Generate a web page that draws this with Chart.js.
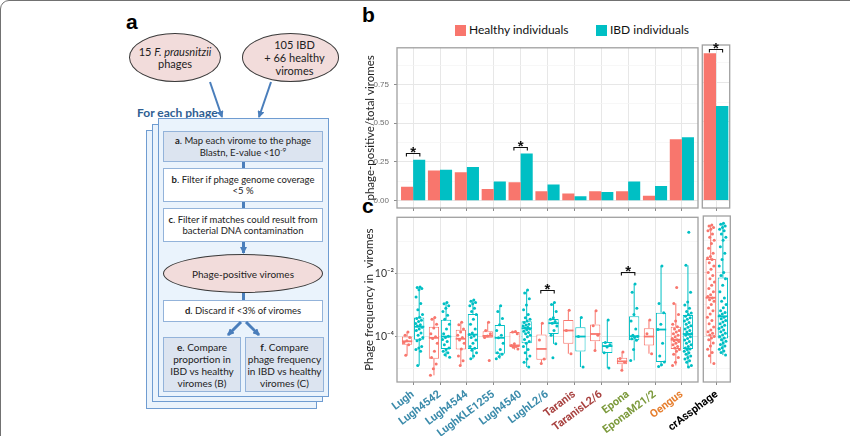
<!DOCTYPE html>
<html>
<head>
<meta charset="utf-8">
<script src="https://cdn.jsdelivr.net/npm/chart.js@4.4.1/dist/chart.umd.min.js"></script>
<style>
html,body{margin:0;padding:0;background:#fff;width:850px;height:436px;overflow:hidden;font-family:Lato,'Open Sans',sans-serif;color:#222;}
#frame{position:absolute;left:0;top:0;width:900px;height:500px;border:1.6px solid #717171;border-radius:9px;box-sizing:border-box;}
canvas{position:absolute;}
.plab{position:absolute;font-family:'Liberation Sans',Arial,sans-serif;font-weight:bold;font-size:21px;line-height:21px;color:#000;}
.stack{position:absolute;background:#eaf3fc;border:1.5px solid #6f9cd1;box-sizing:border-box;}
.box{position:absolute;border:1.2px solid #93b3da;box-sizing:border-box;display:flex;align-items:center;justify-content:center;text-align:center;font-size:9.5px;line-height:11.5px;color:#222;}
.shade{background:#dce4f0;}
.white{background:#fff;}
.ell{position:absolute;background:#f2dcdb;border:1px solid #3a3a3a;border-radius:50%;box-sizing:border-box;display:flex;align-items:center;justify-content:center;text-align:center;color:#222;}
.conn{position:absolute;background:#4a7ebb;width:3px;}
.leg{position:absolute;font-size:12px;line-height:14px;color:#111;}
.sw{position:absolute;width:11px;height:11px;}
sup{font-size:6.5px;vertical-align:4px;line-height:0;}
</style>
</head>
<body>
<div id="frame"></div>

<!-- panel a : workflow -->
<div class="plab" style="left:126px;top:11px;">a</div>
<div class="ell" style="left:129px;top:33px;width:92px;height:49px;font-size:11px;line-height:12px;"><div>15 <i>F. prausnitzii</i><br>phages</div></div>
<div class="ell" style="left:242px;top:33px;width:97px;height:49px;font-size:11px;line-height:13px;padding-left:8px;"><div>105 IBD<br>+ 66 healthy<br>viromes</div></div>
<div style="position:absolute;left:137px;top:105px;font-size:12px;font-weight:bold;color:#2f5e92;">For each phage</div>
<div class="stack" style="left:146px;top:130px;width:171px;height:279px;"></div>
<div class="stack" style="left:152px;top:124px;width:171px;height:278px;"></div>
<div class="stack" style="left:158px;top:118px;width:171px;height:279px;"></div>
<div class="box shade" style="left:163px;top:131px;width:160px;height:31px;"><div><b>a</b>. Map each virome to the phage<br>Blastn, E-value &lt;10<sup>-9</sup></div></div>
<div class="conn" style="left:242px;top:162px;height:6px;"></div>
<div class="box white" style="left:163px;top:168px;width:160px;height:34px;"><div><b>b</b>. Filter if phage genome coverage<br>&lt;5 %</div></div>
<div class="conn" style="left:242px;top:202px;height:6px;"></div>
<div class="box white" style="left:163px;top:208px;width:160px;height:34px;"><div><b>c</b>. Filter if matches could result from<br>bacterial DNA contamination</div></div>
<div class="ell" style="left:163px;top:254px;width:160px;height:39px;font-size:10px;"><div>Phage-positive viromes</div></div>
<div class="conn" style="left:242px;top:293px;height:7px;"></div>
<div class="box white" style="left:163px;top:300px;width:160px;height:22px;"><div><b>d</b>. Discard if &lt;3% of viromes</div></div>
<div class="box shade" style="left:163px;top:337px;width:78px;height:55px;line-height:12px;font-size:10px;"><div><b>e</b>. Compare<br>proportion in<br>IBD vs healthy<br>viromes (B)</div></div>
<div class="box shade" style="left:245px;top:337px;width:79px;height:55px;line-height:12px;font-size:10px;"><div><b>f</b>. Compare<br>phage frequency<br>in IBD vs healthy<br>viromes (C)</div></div>
<svg style="position:absolute;left:0;top:0;" width="850" height="436">
<defs><marker id="ah" markerWidth="7" markerHeight="7" refX="6" refY="3.5" orient="auto" markerUnits="userSpaceOnUse"><path d="M0,0 L7,3.5 L0,7 z" fill="#4a7ebb"/></marker></defs>
<g stroke="#4a7ebb" stroke-width="2" fill="none">
<line x1="210" y1="82" x2="222" y2="117" marker-end="url(#ah)"/>
<line x1="271" y1="82" x2="259" y2="117" marker-end="url(#ah)"/>
<line x1="243.5" y1="242" x2="243.5" y2="253" stroke-width="3" marker-end="url(#ah)"/>
<line x1="241" y1="322" x2="228" y2="335" stroke-width="3" marker-end="url(#ah)"/>
<line x1="246" y1="322" x2="259" y2="335" stroke-width="3" marker-end="url(#ah)"/>
</g>
</svg>

<!-- panels b and c -->
<div class="plab" style="left:362px;top:4px;">b</div>
<div class="plab" style="left:362px;top:195px;">c</div>
<div class="sw" style="left:455px;top:25px;background:#F8766D;"></div>
<div class="leg" style="left:469px;top:23px;">Healthy individuals</div>
<div class="sw" style="left:596px;top:25px;background:#00BFC4;"></div>
<div class="leg" style="left:610px;top:23px;">IBD individuals</div>

<canvas id="b1" width="352" height="180" style="left:350px;top:38px;width:352px;height:180px;"></canvas>
<canvas id="b2" width="40" height="180" style="left:700px;top:38px;width:40px;height:180px;"></canvas>
<canvas id="c1" width="352" height="226" style="left:350px;top:210px;width:352px;height:226px;"></canvas>
<canvas id="c2" width="150" height="226" style="left:590px;top:210px;width:150px;height:226px;"></canvas>

<script>
// ---------------- data ----------------
const categories = ['Lugh','Lugh4542','Lugh4544','LughKLE1255','Lugh4540','LughL2/6','Taranis','TaranisL2/6','Epona','EponaM21/2','Oengus','crAssphage'];
const categoryColors = ['#3b8bab','#3b8bab','#3b8bab','#3b8bab','#3b8bab','#3b8bab','#a8413f','#a8413f','#7c9a3c','#7c9a3c','#e67e2e','#000000'];
const facetCount = 1; // last category is drawn in its own facet

// panel b : proportion of phage-positive viromes
const propHealthy = [0.090,0.195,0.183,0.076,0.120,0.061,0.046,0.061,0.061,0.032,0.397,0.935];
const propIBD     = [0.265,0.200,0.218,0.124,0.305,0.105,0.029,0.057,0.124,0.095,0.410,0.600];
const propTicks   = [0,0.25,0.5,0.75];
const sigPropCats   = [0,4,11];
const sigPropLevels = [0.309,0.346,0.960];

// panel c : phage frequency in viromes (log10 values)
const freqTickExps = [-4,-2];
const hHi  = [-3.85,-3.39,-3.54,-3.54,-3.83,-3.57,-3.16,-3.18,-4.48,-3.47,-2.95,-0.52];
const hQ3  = [-3.99,-3.68,-3.78,-3.82,-3.85,-3.93,-3.47,-3.61,-4.66,-3.73,-3.68,-1.58];
const hMed = [-4.14,-4.03,-4.06,-3.97,-4.27,-4.38,-3.80,-3.91,-4.77,-3.99,-4.09,-2.79];
const hQ1  = [-4.25,-4.69,-4.40,-4.03,-4.32,-4.72,-4.22,-4.14,-4.86,-4.27,-4.38,-3.98];
const hLo  = [-4.58,-5.21,-4.90,-4.03,-4.40,-4.84,-4.53,-4.43,-5.05,-4.53,-4.90,-4.84];
const iHi  = [-2.43,-2.92,-2.84,-3.02,-2.53,-2.92,-3.39,-3.47,-2.34,-1.77,-1.75,-0.47];
const iQ3  = [-3.39,-3.46,-3.28,-3.63,-3.51,-3.44,-3.70,-4.16,-3.35,-3.24,-3.31,-2.16];
const iMed = [-3.68,-3.99,-3.93,-4.03,-3.73,-3.57,-3.99,-4.29,-3.98,-3.77,-3.91,-3.37];
const iQ1  = [-4.09,-4.38,-4.38,-4.53,-4.20,-3.91,-4.46,-4.51,-4.11,-4.79,-4.38,-4.06];
const iLo  = [-4.90,-4.64,-4.69,-4.69,-4.95,-4.22,-4.95,-4.98,-4.74,-4.93,-4.95,-4.58];

const healthyPoints = [
 [-3.85,-3.95,-4.02,-4.12,-4.18,-4.25,-4.58],
 [-3.39,-3.45,-3.6,-3.72,-3.9,-4.0,-4.05,-4.2,-4.45,-4.65,-4.85,-5.0,-5.21],
 [-3.54,-3.62,-3.75,-3.85,-3.95,-4.02,-4.1,-4.2,-4.38,-4.6,-4.75,-4.9],
 [-3.54,-3.8,-3.9,-3.97,-4.02,-4.74],
 [-3.83,-3.85,-3.9,-4.22,-4.27,-4.3,-4.33,-4.38],
 [-3.57,-4.1,-4.7,-4.84],
 [-3.16,-3.8,-4.53],
 [-3.18,-3.65,-3.95,-4.43],
 [-4.48,-4.68,-4.8,-5.05],
 [-3.47,-3.9,-4.53],
 [-2.45,-2.95,-3.3,-3.5,-3.6,-3.68,-3.75,-3.8,-3.85,-3.9,-3.95,-4.0,-4.05,-4.09,-4.12,-4.15,-4.2,-4.25,-4.3,-4.35,-4.4,-4.45,-4.55,-4.65,-4.8,-4.9],
 [-0.52,-0.55,-0.6,-0.65,-0.7,-0.8,-0.9,-1.0,-1.1,-1.25,-1.4,-1.5,-1.55,-1.6,-1.7,-1.8,-1.9,-2.0,-2.1,-2.2,-2.3,-2.4,-2.5,-2.6,-2.7,-2.75,-2.8,-2.85,-2.9,-3.0,-3.1,-3.2,-3.3,-3.4,-3.5,-3.6,-3.7,-3.8,-3.85,-3.9,-3.95,-4.0,-4.05,-4.1,-4.2,-4.3,-4.4,-4.5,-4.6,-4.84]
];
const ibdPoints = [
 [-2.43,-2.45,-2.48,-2.52,-2.75,-2.95,-3.15,-3.3,-3.38,-3.42,-3.48,-3.52,-3.58,-3.62,-3.66,-3.7,-3.75,-3.8,-3.88,-3.95,-4.02,-4.08,-4.12,-4.3,-4.35,-4.4,-4.45,-4.9],
 [-2.92,-2.96,-3.02,-3.1,-3.2,-3.32,-3.45,-3.6,-3.75,-3.9,-3.98,-4.02,-4.08,-4.15,-4.25,-4.35,-4.4,-4.45,-4.5,-4.56,-4.64],
 [-2.84,-2.88,-2.92,-2.96,-3.02,-3.1,-3.2,-3.3,-3.45,-3.6,-3.75,-3.88,-3.93,-3.97,-4.02,-4.1,-4.2,-4.3,-4.36,-4.42,-4.5,-4.6,-4.69],
 [-3.02,-3.2,-3.42,-3.62,-3.8,-3.95,-4.03,-4.2,-4.4,-4.5,-4.55,-4.62,-4.69],
 [-2.53,-2.62,-2.8,-3.0,-3.15,-3.3,-3.4,-3.45,-3.5,-3.55,-3.6,-3.63,-3.66,-3.7,-3.72,-3.75,-3.78,-3.82,-3.86,-3.9,-3.95,-4.0,-4.08,-4.15,-4.2,-4.3,-4.4,-4.5,-4.6,-4.7,-4.8,-4.95],
 [-2.92,-2.98,-3.2,-3.4,-3.45,-3.52,-3.57,-3.66,-3.8,-3.95,-4.22,-4.66],
 [-3.39,-3.99,-4.95],
 [-3.47,-4.18,-4.25,-4.32,-4.5,-4.98],
 [-2.34,-2.6,-3.1,-3.3,-3.5,-3.75,-3.95,-3.99,-4.02,-4.06,-4.11,-4.4,-4.74],
 [-1.77,-2.95,-3.24,-3.6,-3.77,-4.2,-4.6,-4.79,-4.88,-4.93],
 [-0.71,-1.75,-2.6,-2.9,-3.0,-3.1,-3.2,-3.25,-3.3,-3.35,-3.4,-3.45,-3.5,-3.55,-3.6,-3.65,-3.7,-3.75,-3.8,-3.85,-3.9,-3.92,-3.95,-4.0,-4.05,-4.1,-4.15,-4.2,-4.25,-4.3,-4.35,-4.38,-4.4,-4.45,-4.5,-4.55,-4.6,-4.65,-4.7,-4.75,-4.8,-4.9,-4.95],
 [-0.47,-0.5,-0.55,-0.6,-0.65,-0.7,-0.8,-0.9,-1.0,-1.2,-1.4,-1.6,-1.8,-2.0,-2.1,-2.2,-2.4,-2.6,-2.8,-2.9,-3.0,-3.1,-3.2,-3.25,-3.3,-3.35,-3.4,-3.45,-3.5,-3.55,-3.6,-3.65,-3.7,-3.75,-3.8,-3.85,-3.9,-3.95,-4.0,-4.05,-4.1,-4.15,-4.2,-4.25,-4.3,-4.35,-4.4,-4.45,-4.5,-4.58]
];
const sigFreqCats   = [5,8];
const sigFreqLevels = [-2.53,-1.96];

// ---------------- styling ----------------
const HEALTHY = '#F8766D', IBD = '#00BFC4';
const GRID_MAJOR = '#e7e7e7', GRID_MINOR = '#f3f3f3', TICK = '#8c8c8c';
const P = e => Math.pow(10, e);
Chart.defaults.animation = false;
Chart.defaults.events = [];
Chart.defaults.plugins.legend.display = false;
Chart.defaults.plugins.tooltip.enabled = false;
Chart.defaults.font.family = "Lato, 'DejaVu Sans', sans-serif";

const nMain = categories.length - facetCount;
const mainIdx = categories.slice(0, nMain).map((_, i) => i);
const facetIdx = categories.slice(nMain).map((_, i) => nMain + i);

const framePlugin = { id: 'frame', afterDraw(chart) {
  const {ctx, chartArea: a} = chart;
  ctx.save(); ctx.strokeStyle = '#a0a0a0'; ctx.lineWidth = 1.3;
  ctx.strokeRect(a.left, a.top, a.right - a.left, a.bottom - a.top); ctx.restore();
}};

const sigPlugin = { id: 'sig', afterDraw(chart, args, opts) {
  if (!opts.cats || !opts.cats.length) return;
  const {ctx, scales: {x, y}} = chart;
  ctx.save();
  ctx.strokeStyle = '#111'; ctx.fillStyle = '#111'; ctx.lineWidth = 1.1;
  ctx.font = "bold 15px 'Liberation Sans', Arial, sans-serif"; ctx.textAlign = 'center'; ctx.textBaseline = 'alphabetic';
  opts.cats.forEach((c, k) => {
    const x0 = x.getPixelForValue(c - 0.25), x1 = x.getPixelForValue(c + 0.25);
    const yt = Math.round(y.getPixelForValue(opts.levels[k])) + 0.5;
    ctx.beginPath(); ctx.moveTo(x0, yt + 3); ctx.lineTo(x0, yt); ctx.lineTo(x1, yt); ctx.lineTo(x1, yt + 3); ctx.stroke();
    ctx.fillText('*', (x0 + x1) / 2, yt + 3);
  });
  ctx.restore();
}};

const boxPlugin = { id: 'boxExtras', afterDatasetDraw(chart, args) {
  const ds = chart.data.datasets[args.index];
  if (!ds.whiskerLo) return;
  const {ctx, scales: {y}} = chart;
  ctx.save(); ctx.strokeStyle = ds.borderColor;
  args.meta.data.forEach((bar, j) => {
    const {x: cx, width: w} = bar.getProps(['x', 'width'], true);
    const yHi = y.getPixelForValue(P(ds.whiskerHi[j])), yQ3 = y.getPixelForValue(P(ds.q3[j]));
    const yQ1 = y.getPixelForValue(P(ds.q1[j])), yLo = y.getPixelForValue(P(ds.whiskerLo[j]));
    const yM = y.getPixelForValue(P(ds.med[j]));
    ctx.lineWidth = 1;
    ctx.beginPath(); ctx.moveTo(cx, yHi); ctx.lineTo(cx, yQ3); ctx.moveTo(cx, yQ1); ctx.lineTo(cx, yLo); ctx.stroke();
    ctx.lineWidth = 1.8;
    ctx.beginPath(); ctx.moveTo(cx - w / 2, yM); ctx.lineTo(cx + w / 2, yM); ctx.stroke();
  });
  ctx.restore();
}};

function xScale(idx, lo, hi, height, showLabels) {
  return {
    type: 'linear', min: lo, max: hi, bounds: 'data', offset: false,
    afterBuildTicks: s => { s.ticks = idx.map((_, i) => ({value: i})); },
    afterFit: s => { s.height = height; },
    grid: {offset: false, color: GRID_MAJOR, lineWidth: 1, drawTicks: true, tickLength: 3, tickColor: TICK},
    border: {display: false},
    ticks: {display: showLabels, autoSkip: false, minRotation: 37, maxRotation: 37, padding: 3,
      callback: (v, i) => categories[idx[i]],
      color: c => categoryColors[idx[c.index]],
      font: {family: "'Liberation Sans Narrow', Roboto, sans-serif", weight: 'bold', size: 11}}
  };
}

const isMajorProp = v => propTicks.some(t => Math.abs(t - v) < 1e-9);
function yPropScale(withAxis) {
  const step = propTicks[1] - propTicks[0];
  const grid = [];
  propTicks.forEach(t => { grid.push(t); grid.push(t + step / 2); });
  return {
    type: 'linear', min: -0.047, max: 0.987, bounds: 'data',
    afterBuildTicks: s => { s.ticks = grid.map(v => ({value: v})); },
    afterFit: s => { s.width = withAxis ? 47 : 0; },
    grid: {color: c => isMajorProp(c.tick.value) ? GRID_MAJOR : GRID_MINOR,
      lineWidth: c => isMajorProp(c.tick.value) ? 1 : 0.7,
      drawTicks: withAxis, tickLength: 3,
      tickColor: c => isMajorProp(c.tick.value) ? TICK : 'rgba(0,0,0,0)'},
    border: {display: false},
    ticks: {display: withAxis, padding: 5, color: '#6f6f6f',
      font: {family: "'Liberation Sans Narrow', 'Liberation Sans', sans-serif", size: 8},
      callback: v => isMajorProp(v) ? v.toFixed(2) : ''},
    title: {display: withAxis, text: 'phage-positive/total viromes', color: '#1e1e1e',
      font: {family: 'Lato', size: 11.5}, padding: {top: 13, bottom: 0}}
  };
}

const SUP = {'-': '\u207B', '0': '\u2070', '1': '\u00B9', '2': '\u00B2', '3': '\u00B3', '4': '\u2074', '5': '\u2075', '6': '\u2076', '7': '\u2077', '8': '\u2078', '9': '\u2079'};
const expLabel = e => '10' + String(e).split('').map(ch => SUP[ch]).join('');
function yFreqScale(withAxis) {
  const lo = Math.min(...freqTickExps), hi = Math.max(...freqTickExps);
  const gridExps = [];
  for (let e = lo - 1; e <= hi + 1; e++) gridExps.push(e);
  const major = e => freqTickExps.includes(e);
  const expOf = v => Math.round(Math.log10(v));
  return {
    type: 'logarithmic', min: P(-5.42), max: P(-0.24), bounds: 'data',
    afterBuildTicks: s => { s.ticks = gridExps.map(e => ({value: P(e)})); },
    afterFit: s => { s.width = withAxis ? 47 : 0; },
    grid: {color: c => major(expOf(c.tick.value)) ? GRID_MAJOR : GRID_MINOR,
      lineWidth: c => major(expOf(c.tick.value)) ? 1 : 0.7,
      drawTicks: withAxis, tickLength: 2,
      tickColor: c => major(expOf(c.tick.value)) ? TICK : 'rgba(0,0,0,0)'},
    border: {display: false},
    ticks: {display: withAxis, padding: 1, color: '#333',
      font: {family: "Lato, 'DejaVu Sans', sans-serif", size: 10.5},
      callback: v => major(expOf(v)) ? expLabel(expOf(v)) : ''},
    title: {display: withAxis, text: 'Phage frequency in  viromes', color: '#1e1e1e',
      font: {family: 'Lato', size: 11.5}, padding: {top: 12, bottom: 0}}
  };
}

function barData(values, idx) { return idx.map((k, i) => ({x: i, y: values[k]})); }
function propChart(id, idx, lo, hi, withAxis, padding) {
  const sc = [], sl = [];
  sigPropCats.forEach((c, k) => { const p = idx.indexOf(c); if (p >= 0) { sc.push(p); sl.push(sigPropLevels[k]); } });
  return new Chart(document.getElementById(id), {
    type: 'bar',
    data: {datasets: [
      {label: 'Healthy individuals', data: barData(propHealthy, idx), backgroundColor: HEALTHY, categoryPercentage: 0.9, barPercentage: 1, borderWidth: 0},
      {label: 'IBD individuals', data: barData(propIBD, idx), backgroundColor: IBD, categoryPercentage: 0.9, barPercentage: 1, borderWidth: 0}
    ]},
    options: {responsive: false, layout: {padding},
      scales: {x: xScale(idx, lo, hi, 4, false), y: yPropScale(withAxis)},
      plugins: {sig: {cats: sc, levels: sl}}},
    plugins: [framePlugin, sigPlugin]
  });
}

function jitter(vals, center) {
  return vals.map((v, k) => ({x: center + ((((k + 1) * 0.6180339887) % 1) - 0.5) * 0.28, y: P(v)}));
}
function boxDataset(label, color, q1, q3, lo, hi, med, idx) {
  return {label, type: 'bar', order: 2,
    data: idx.map((k, i) => ({x: i, y: [P(q1[k]), P(q3[k])]})),
    q1: idx.map(k => q1[k]), q3: idx.map(k => q3[k]), med: idx.map(k => med[k]),
    whiskerLo: idx.map(k => lo[k]), whiskerHi: idx.map(k => hi[k]),
    backgroundColor: '#ffffff', borderColor: color, borderWidth: 1, borderSkipped: false,
    categoryPercentage: 0.9, barPercentage: 0.85};
}
function freqChart(id, idx, lo, hi, withAxis, padding, xHeight) {
  const sc = [], sl = [];
  sigFreqCats.forEach((c, k) => { const p = idx.indexOf(c); if (p >= 0) { sc.push(p); sl.push(P(sigFreqLevels[k])); } });
  const hPts = [], iPts = [];
  idx.forEach((k, i) => { hPts.push(...jitter(healthyPoints[k], i - 0.225)); iPts.push(...jitter(ibdPoints[k], i + 0.225)); });
  return new Chart(document.getElementById(id), {
    type: 'bar',
    data: {datasets: [
      boxDataset('Healthy individuals', HEALTHY, hQ1, hQ3, hLo, hHi, hMed, idx),
      boxDataset('IBD individuals', IBD, iQ1, iQ3, iLo, iHi, iMed, idx),
      {label: 'Healthy points', type: 'scatter', order: 1, data: hPts, backgroundColor: HEALTHY, pointRadius: 1.5, borderWidth: 0, showLine: false},
      {label: 'IBD points', type: 'scatter', order: 1, data: iPts, backgroundColor: IBD, pointRadius: 1.5, borderWidth: 0, showLine: false}
    ]},
    options: {responsive: false, layout: {padding},
      scales: {x: xScale(idx, lo, hi, xHeight, true), y: yFreqScale(withAxis)},
      plugins: {sig: {cats: sc, levels: sl}}},
    plugins: [framePlugin, boxPlugin, sigPlugin]
  });
}

propChart('b1', mainIdx, -0.6, nMain - 1 + 0.6, true, {left: 0, top: 7, right: 4, bottom: 6});
propChart('b2', facetIdx, -0.52, 0.52, false, {left: 2.3, top: 7, right: 10.3, bottom: 6});
freqChart('c1', mainIdx, -0.6, nMain - 1 + 0.6, true, {left: 0, top: 6, right: 4, bottom: 0}, 54);
freqChart('c2', facetIdx, -0.52, 0.52, false, {left: 113.3, top: 6, right: 9.7, bottom: 0}, 54);
</script>
</body>
</html>
